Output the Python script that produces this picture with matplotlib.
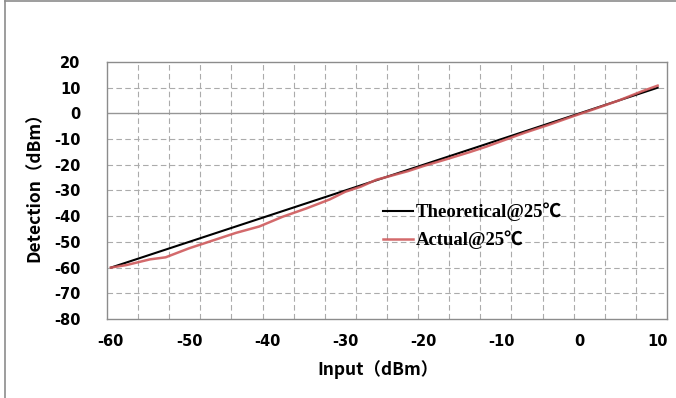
import numpy as np
import matplotlib
matplotlib.use("Agg")
from matplotlib import pyplot as plt
from matplotlib.lines import Line2D

plt.rcParams['axes.unicode_minus'] = False

# data
theo_x = [-60, 10]
theo_y = [-60, 10]
act_x = [-60, -58, -55, -53, -50, -47, -44, -41, -38, -35, -32, -30, -28, -26,
         -25, -22, -20, -17, -14, -12, -10, -7, -4, -1, 2, 5, 8, 10]
act_y = [-60, -59, -56.8, -56, -52.5, -49.5, -46.5, -44, -40.2, -37, -33.5, -30.5,
         -28.5, -25.8, -25, -22.5, -20.5, -17.8, -15, -13, -10.8, -7.5, -4.5,
         -1.3, 1.8, 5, 8.6, 10.8]
x_ticks = [-60, -50, -40, -30, -20, -10, 0, 10]
y_ticks = [20, 10, 0, -10, -20, -30, -40, -50, -60, -70, -80]

lab_font = ['DejaVu Sans', 'Noto Sans CJK SC']
cjk_font = ['Noto Sans CJK SC', 'DejaVu Sans']
leg_font = ['Liberation Serif', 'Noto Sans CJK SC']

fig = plt.figure(figsize=(6.76, 3.98), dpi=100)
ax = fig.add_axes([107/676, 1-319/398, 560/676, 257/398])

xlim = (-60.5, 11.2)
ax.set_xlim(*xlim)
ax.set_ylim(-80, 20)

grid_c = '#ababab'
# vertical dashed gridlines (18 divisions like the excel category axis)
for gx in np.linspace(xlim[0], xlim[1], 19)[1:-1]:
    ax.axvline(gx, color=grid_c, lw=0.8, ls=(0, (5, 3)), zorder=1)
for gy in y_ticks[1:-1]:
    if gy == 0:
        ax.axhline(gy, color='#969696', lw=1.0, zorder=1)
    else:
        ax.axhline(gy, color=grid_c, lw=0.8, ls=(0, (5, 3)), zorder=1)

ax.plot(theo_x, theo_y, color='black', lw=1.5, zorder=3, label='Theoretical@25℃')
ax.plot(act_x, act_y, color='#cf5a5c', lw=1.8, alpha=0.9, zorder=4, label='Actual@25℃')

ax.set_xticks(x_ticks)
ax.set_yticks(y_ticks)
ax.tick_params(length=0)
ax.tick_params(axis='x', pad=11)
ax.tick_params(axis='y', pad=19)
for t in ax.get_xticklabels() + ax.get_yticklabels():
    t.set_fontweight('bold')
    t.set_fontsize(10.5)
    t.set_family(lab_font)

for s in ax.spines.values():
    s.set_color('#8c8c8c')
    s.set_linewidth(1.0)

fig.text(378/676, 1-370/398, 'Input（dBm）', ha='center', va='center',
         fontsize=12.5, fontweight='bold', family=cjk_font)
fig.text(35/676, 1-183/398, 'Detection（dBm）', ha='center', va='center',
         rotation=90, fontsize=12.5, fontweight='bold', family=cjk_font)

leg = ax.legend(loc='upper left', bbox_to_anchor=(268/560, 1-133/257), frameon=False,
                handlelength=1.6, handletextpad=0.15, labelspacing=0.5,
                borderaxespad=0, prop={'family': leg_font, 'weight': 'bold', 'size': 13.5})

# outer chart border (left and top edges visible in the reference)
fig.add_artist(Line2D([4.5/676, 4.5/676], [0, 1-1/398], color='#8c8c8c', lw=1.2))
fig.add_artist(Line2D([4.5/676, 1], [1-1/398, 1-1/398], color='#8c8c8c', lw=1.2))

fig.savefig('out.png', dpi=100)
